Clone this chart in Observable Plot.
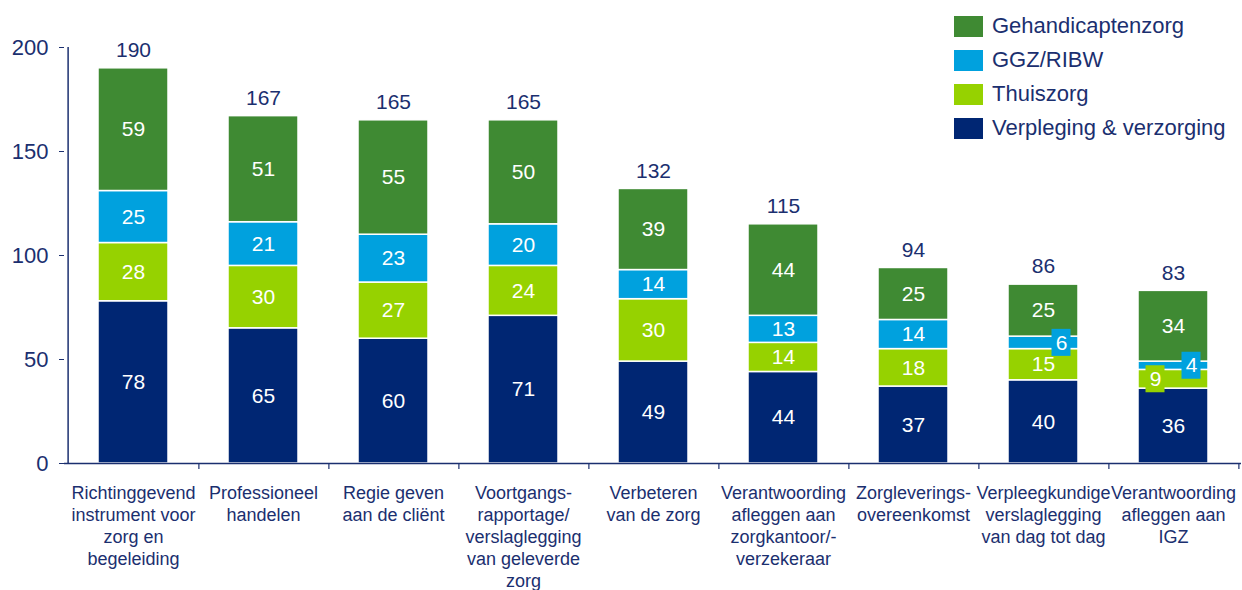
<!DOCTYPE html>
<html>
<head>
<meta charset="utf-8">
<script src="https://cdn.jsdelivr.net/npm/d3@7"></script>
<script src="https://cdn.jsdelivr.net/npm/@observablehq/plot@0.6"></script>
<style>
  body { margin: 0; background: #fff; font-family: "Liberation Sans", Arial, sans-serif; }
  #wrap { position: relative; width: 1242px; height: 590px; }
  #legend { position: absolute; left: 954px; top: 9px; color: #1b2f6f; font-size: 22px; }
  #legend .item { display: flex; align-items: center; height: 34px; }
  #legend .sw { width: 29px; height: 21px; margin-right: 9px; flex: none; }
</style>
</head>
<body>
<div id="wrap"><div id="legend"></div></div>
<script>
// ---- data ----
const categories = [
  "Richtinggevend\ninstrument voor\nzorg en\nbegeleiding",
  "Professioneel\nhandelen",
  "Regie geven\naan de cliënt",
  "Voortgangs-\nrapportage/\nverslaglegging\nvan geleverde\nzorg",
  "Verbeteren\nvan de zorg",
  "Verantwoording\nafleggen aan\nzorgkantoor/-\nverzekeraar",
  "Zorgleverings-\novereenkomst",
  "Verpleegkundige\nverslaglegging\nvan dag tot dag",
  "Verantwoording\nafleggen aan\nIGZ"
];
const series = ["Verpleging & verzorging", "Thuiszorg", "GGZ/RIBW", "Gehandicaptenzorg"];
const verpleging = [78, 65, 60, 71, 49, 44, 37, 40, 36];
const thuiszorg = [28, 30, 27, 24, 30, 14, 18, 15, 9];
const ggz = [25, 21, 23, 20, 14, 13, 14, 6, 4];
const gehandicapten = [59, 51, 55, 50, 39, 44, 25, 25, 34];
const totals = [190, 167, 165, 165, 132, 115, 94, 86, 83];
const yTicks = [0, 50, 100, 150, 200];
const legendOrder = ["Gehandicaptenzorg", "GGZ/RIBW", "Thuiszorg", "Verpleging & verzorging"];

// ---- styles ----
const colors = ["#002673", "#96D200", "#00A1DE", "#3F8A33"];
const NAVY = "#1b2f6f";
const W = 1242, H = 590, ML = 64, MR = 1;
const PAD = 0.465;
const bw = (W - ML - MR) / categories.length;

// ---- build stacked rows ----
const seriesValues = [verpleging, thuiszorg, ggz, gehandicapten];
const rows = [];
categories.forEach((cat, i) => {
  let base = 0;
  series.forEach((s, j) => {
    const v = seriesValues[j][i];
    rows.push({cat, series: s, value: v, y1: base, y2: base + v, mid: base + v / 2});
    base += v;
  });
});
const big = rows.filter(d => d.value >= 10);
const smallGGZ = rows.filter(d => d.value < 10 && d.series === "GGZ/RIBW");
const smallThuis = rows.filter(d => d.value < 10 && d.series === "Thuiszorg");
const totalRows = categories.map((cat, i) => ({cat, total: totals[i]}));

const boxOpts = (dx) => ({
  x: "cat", y1: "mid", y2: "mid", fill: "series",
  insetLeft: 25.5, insetRight: 25.5, insetTop: -13.5, insetBottom: -13.5, dx
});
const boxText = (dx) => ({x: "cat", y: "mid", text: "value", fill: "white", fontSize: 21, dx});

const chart = Plot.plot({
  width: W, height: H,
  marginLeft: ML, marginRight: MR, marginTop: 47, marginBottom: 127,
  style: {fontFamily: "'Liberation Sans', Arial, sans-serif", color: NAVY, background: "white", overflow: "visible"},
  x: {domain: categories, paddingInner: PAD, paddingOuter: PAD / 2, align: 0.5, label: null, axis: null},
  y: {domain: [0, 200], label: null, ticks: yTicks, axis: null},
  color: {domain: series, range: colors},
  marks: [
    Plot.barY(rows, {x: "cat", y1: "y1", y2: "y2", fill: "series", stroke: "white", strokeWidth: 1.5}),
    Plot.ruleY([0], {stroke: NAVY, strokeWidth: 1.5}),
    Plot.ruleX([categories[0]], {x: d => d, dx: -bw / 2, y1: 0, y2: 200, stroke: NAVY, strokeWidth: 1.5}),
    Plot.ruleX(categories, {x: d => d, dx: bw / 2, y1: 0, y2: 0, insetBottom: -6, stroke: NAVY, strokeWidth: 1.2}),
    Plot.axisY({ticks: yTicks, tickSize: 5, tickPadding: 11, fontSize: 22, label: null, stroke: NAVY, fill: NAVY}),
    Plot.axisX({tickSize: 0, tickPadding: 20, fontSize: 18, lineHeight: 1.22, label: null, fill: NAVY}),
    Plot.text(big, {x: "cat", y: "mid", text: "value", fill: "white", fontSize: 21}),
    Plot.barY(smallGGZ, boxOpts(18)),
    Plot.text(smallGGZ, boxText(18)),
    Plot.barY(smallThuis, boxOpts(-18)),
    Plot.text(smallThuis, boxText(-18)),
    Plot.text(totalRows, {x: "cat", y: "total", text: "total", dy: -18, fontSize: 21, fill: NAVY})
  ]
});
document.getElementById("wrap").prepend(chart);

// ---- legend ----
const legend = document.getElementById("legend");
legendOrder.forEach(name => {
  const item = document.createElement("div");
  item.className = "item";
  const sw = document.createElement("div");
  sw.className = "sw";
  sw.style.background = colors[series.indexOf(name)];
  const label = document.createElement("span");
  label.textContent = name;
  item.append(sw, label);
  legend.append(item);
});
</script>
</body>
</html>
